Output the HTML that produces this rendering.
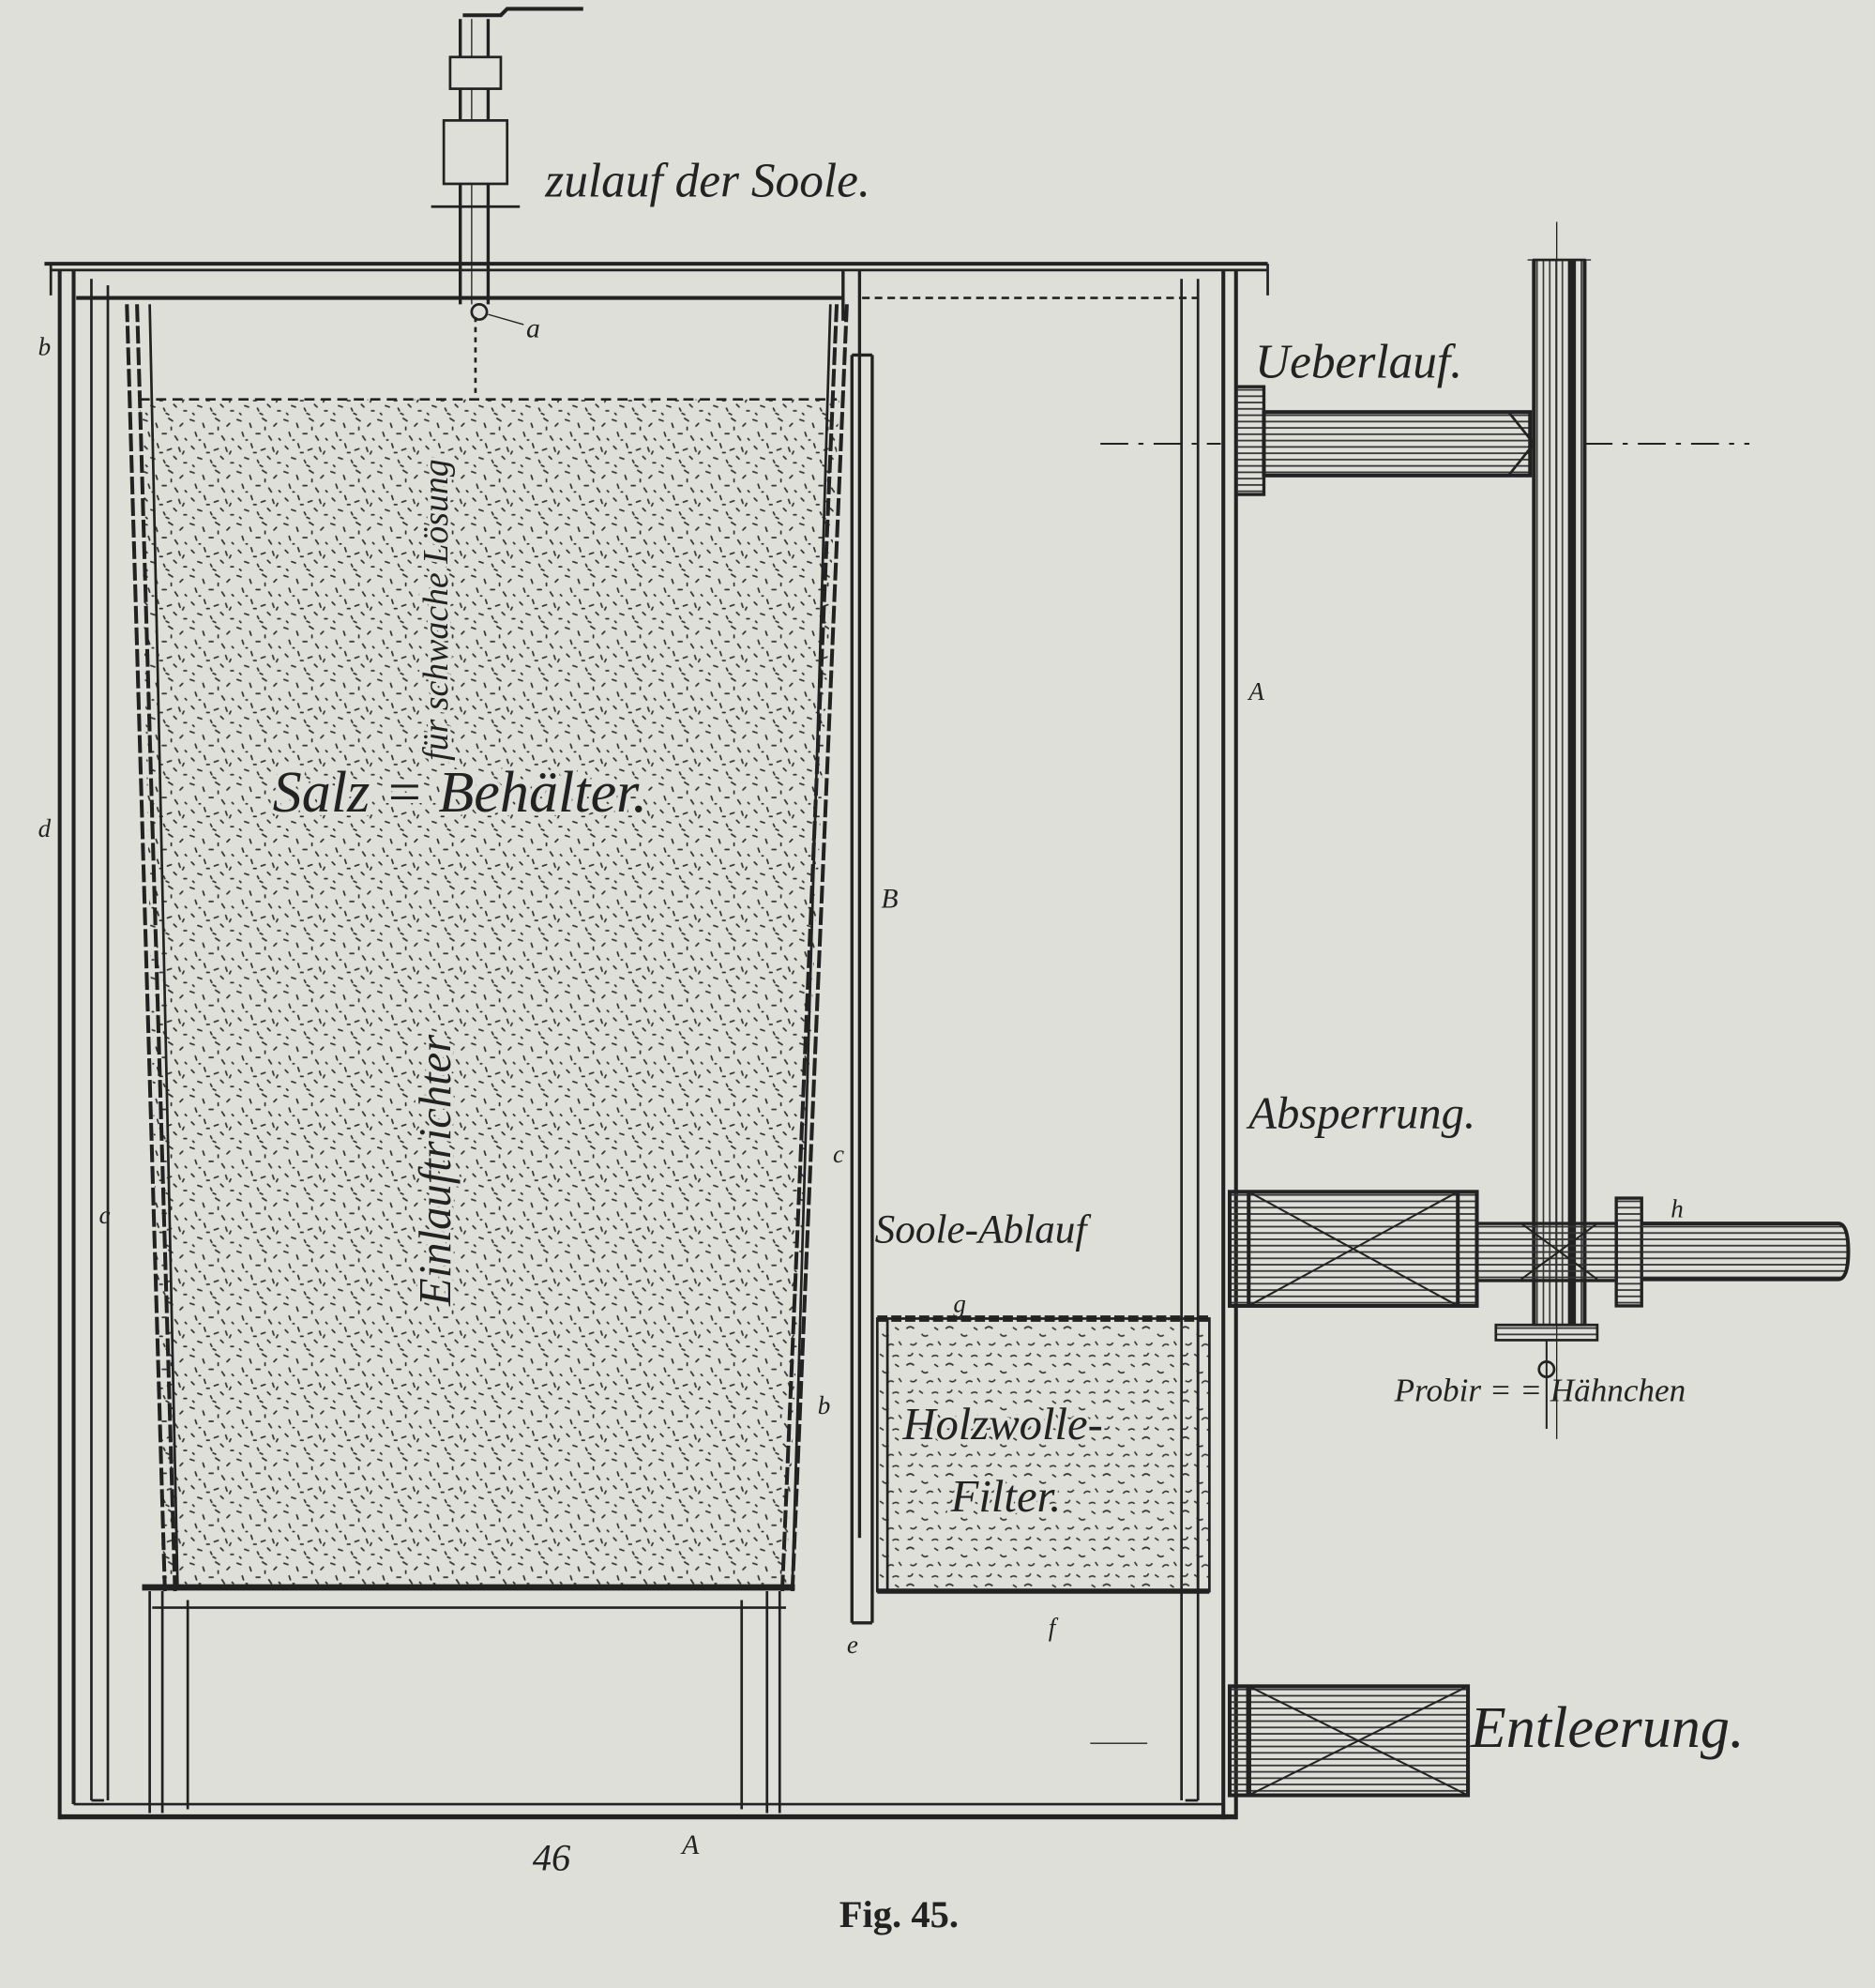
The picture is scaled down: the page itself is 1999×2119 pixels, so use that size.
<!DOCTYPE html>
<html><head><meta charset="utf-8"><style>
html,body{margin:0;padding:0;background:#dddfd8;}
svg{display:block;}
text{font-family:"Liberation Serif",serif;fill:#222;}
.s{font-style:italic;}
</style></head><body>
<svg width="1999" height="2119" viewBox="0 0 1479 1568" xmlns="http://www.w3.org/2000/svg">
<defs>
<pattern id="st" width="37" height="41" patternUnits="userSpaceOnUse">
<g stroke="#333" stroke-width="1.3" stroke-linecap="round">
<path d="M2 3l3 1M12 6l1 3M22 2l3 2M31 8l2-2M6 13l1 3M17 14l3 0M27 16l2 3M35 18l1 1M3 24l2 2M13 22l1 3M21 27l3-1M30 25l1 3M8 33l3 1M18 35l1 2M26 32l2 2M34 37l2 0M4 39l1 1M15 29l2 0M24 9l0 2M9 19l1 0M33 30l1-2M20 39l2 1"/>
</g>
</pattern>
<pattern id="st2" width="31" height="29" patternUnits="userSpaceOnUse">
<g stroke="#333" stroke-width="1.2" fill="none">
<path d="M2 4q3-3 6 0M14 8q2 3 5 1M24 3l3 2M5 16q3 2 5-1M18 18q2-3 5-1M27 14l2 3M3 25q3 1 4-2M12 24l3 2M22 26q3-2 5 0"/>
</g>
</pattern>
<pattern id="hl" width="10" height="5" patternUnits="userSpaceOnUse">
<path d="M0 2.5h10" stroke="#333" stroke-width="1.3"/>
</pattern>
<pattern id="vl" width="5" height="10" patternUnits="userSpaceOnUse">
<path d="M2.5 0v10" stroke="#333" stroke-width="1.2"/>
</pattern>
</defs>
<rect width="1479" height="1568" fill="#dddfd8"/>
<g stroke="#222" fill="none" stroke-width="2">
<path d="M35 208h965" stroke-width="3"/>
<path d="M40 213h960"/>
<path d="M40 208v25M1000 208v25" stroke-width="2"/>
<path d="M47 213v1222M58 213v1210M965 213v1222M975 213v1222" stroke-width="3"/>
<path d="M47 1433h928" stroke-width="4"/>
<path d="M58 1423h907"/>
<path d="M72 220v1200M85 225v1195M945 220v1200M932 220v1200"/>
<path d="M72 1420h10M935 1420h10"/>
<path d="M60 235h605" stroke-width="3"/>
<path d="M665 213v40M678 213v1000" stroke-width="2.5"/>
<path d="M680 235h265" stroke-dasharray="6 4"/>
<polygon points="110,315 662,315 620,1252 128,1252" fill="url(#st)" stroke="none"/>
<path d="M100 240L130 1255M108 240L138 1255" stroke-width="3" stroke-dasharray="14 3"/>
<path d="M668 240L625 1255M660 240L617 1255" stroke-width="3" stroke-dasharray="14 3"/>
<path d="M118 240L140 1250M655 240L625 1250"/>
<path d="M110 315h550" stroke-dasharray="8 5"/>
<path d="M112 1252h515" stroke-width="5"/>
<path d="M120 1268h500"/>
<path d="M118 1255v175M128 1255v175M148 1262v165M585 1262v165M605 1255v175M615 1255v175"/>
<path d="M672 280v1000M688 280v1000M672 280h16M672 1280h16" stroke-width="2.5"/>
<rect x="692" y="1040" width="262" height="215" fill="url(#st2)"/>
<path d="M692 1040h262" stroke-width="5" stroke-dasharray="8 3"/>
<path d="M692 1255h262" stroke-width="4"/>
<path d="M700 1040v215M945 1040v215"/>
<path d="M363 15v225M385 15v225" stroke-width="2.5"/>
<path d="M372 15v225" stroke-width="1"/>
<path d="M365 12h30l5-5h60" stroke-width="3"/>
<rect x="355" y="45" width="40" height="25" fill="#dddfd8"/>
<rect x="350" y="95" width="50" height="50" fill="#dddfd8"/>
<path d="M340 163h70"/>
<path d="M375 250v60" stroke-dasharray="4 4"/>
<circle cx="378" cy="246" r="6"/>
<path d="M385 248l28 8" stroke-width="1"/>
<!-- overflow pipe -->
<path d="M1205 205h50" stroke-width="1"/>
<path d="M1228 175v960" stroke-width="1"/>
<rect x="1210" y="205" width="40" height="840" fill="url(#vl)"/>
<path d="M1210 205v840M1250 205v840" stroke-width="3"/>
<path d="M1240 205v840" stroke-width="6"/>
<rect x="975" y="305" width="22" height="85" fill="url(#hl)" stroke-width="2.5"/>
<rect x="997" y="325" width="210" height="50" fill="url(#hl)" stroke-width="3"/>
<path d="M1190 325l20 25-20 25" />
<path d="M868 350h95M1250 350h130" stroke-dasharray="22 8 4 8" stroke-width="1.5"/>
<rect x="970" y="940" width="195" height="90" fill="url(#hl)" stroke-width="3"/>
<path d="M985 940v90M1150 940v90" stroke-width="3"/>
<path d="M985 940L1150 1030M985 1030L1150 940" stroke-width="1.5"/>
<rect x="1165" y="965" width="110" height="45" fill="url(#hl)" stroke-width="2.5"/>
<rect x="1275" y="945" width="20" height="85" fill="url(#hl)" stroke-width="2.5"/>
<path d="M1295 965h155q8 0 8 22q0 22-8 22h-155" fill="url(#hl)" stroke-width="3"/>
<path d="M1200 965l30 22-30 22M1260 965l-30 22 30 22" stroke-width="1.5"/>
<rect x="1180" y="1045" width="80" height="12" fill="url(#hl)" stroke-width="2"/>
<path d="M1220 1057v70" stroke-width="1.5"/>
<circle cx="1220" cy="1080" r="6"/>
<rect x="970" y="1330" width="188" height="86" fill="url(#hl)" stroke-width="3"/>
<path d="M985 1330v86" stroke-width="4"/>
<path d="M985 1330L1158 1416M985 1416L1158 1330" stroke-width="1.5"/>
<path d="M860 1375h45" stroke-width="1"/>
</g>
<g class="s">
<text x="430" y="155" font-size="38">zulauf der Soole.</text>
<text x="990" y="298" font-size="38">Ueberlauf.</text>
<text x="985" y="890" font-size="36">Absperrung.</text>
<text x="690" y="980" font-size="32">Soole-Ablauf</text>
<text x="1160" y="1378" font-size="46">Entleerung.</text>
<text x="1100" y="1105" font-size="26">Probir = = Hähnchen</text>
<text x="215" y="640" font-size="46" style="paint-order:stroke" stroke="#dddfd8" stroke-width="6">Salz = Behälter.</text>
<text x="712" y="1135" font-size="36" style="paint-order:stroke" stroke="#dddfd8" stroke-width="5">Holzwolle-</text>
<text x="750" y="1192" font-size="36" style="paint-order:stroke" stroke="#dddfd8" stroke-width="5">Filter.</text>
<text transform="translate(355,1030) rotate(-90)" font-size="36" style="paint-order:stroke" stroke="#dddfd8" stroke-width="5">Einlauftrichter</text>
<text transform="translate(353,600) rotate(-90)" font-size="28" style="paint-order:stroke" stroke="#dddfd8" stroke-width="5">für schwache Lösung</text>
<text x="415" y="266" font-size="22">a</text>
<text x="30" y="280" font-size="20">b</text>
<text x="30" y="660" font-size="20">d</text>
<text x="78" y="965" font-size="20">c</text>
<text x="645" y="1115" font-size="20">b</text>
<text x="657" y="917" font-size="20">c</text>
<text x="695" y="716" font-size="22">B</text>
<text x="985" y="552" font-size="20">A</text>
<text x="538" y="1462" font-size="22">A</text>
<text x="752" y="1035" font-size="20">g</text>
<text x="827" y="1290" font-size="20">f</text>
<text x="668" y="1304" font-size="20">e</text>
<text x="1318" y="960" font-size="20">h</text>
<text x="420" y="1475" font-size="30">46</text>
</g>
<text x="662" y="1520" font-size="30" font-weight="bold">Fig. 45.</text>
</svg>
</body></html>
